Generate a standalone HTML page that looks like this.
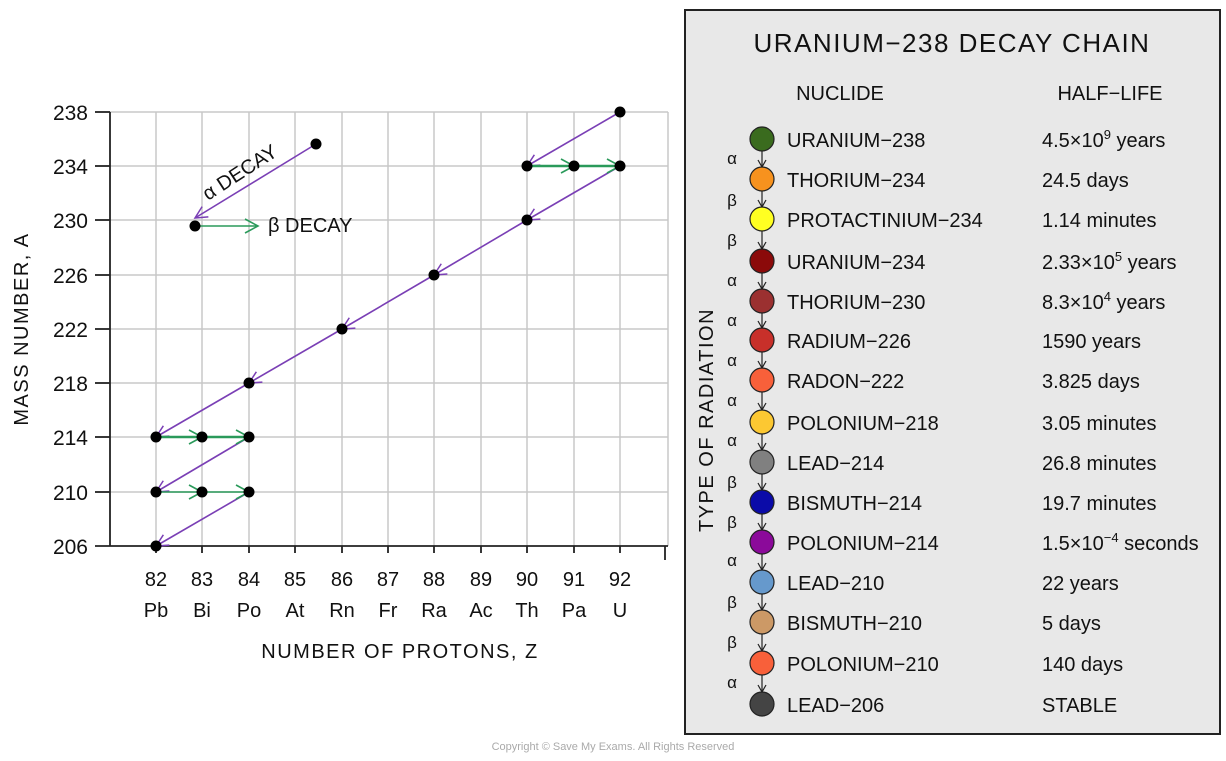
<!DOCTYPE html>
<html><head><meta charset="utf-8"><style>
html,body{margin:0;padding:0;background:#fff;}
svg{display:block;font-family:"Liberation Sans","DejaVu Sans",sans-serif;}
</style></head><body>
<svg width="1226" height="761" viewBox="0 0 1226 761" xmlns="http://www.w3.org/2000/svg">
<defs>
<marker id="pa" markerWidth="16" markerHeight="16" refX="14" refY="8" orient="auto" markerUnits="userSpaceOnUse">
<path d="M2,2 L14,8 L2,14" fill="none" stroke="#7a3fb5" stroke-width="1.5"/></marker>
<marker id="ga" markerWidth="18" markerHeight="18" refX="16" refY="9" orient="auto" markerUnits="userSpaceOnUse">
<path d="M3,2 L16,9 L3,16" fill="none" stroke="#2a9a5a" stroke-width="1.6"/></marker>
<marker id="ka" markerWidth="10" markerHeight="10" refX="8" refY="5" orient="auto" markerUnits="userSpaceOnUse">
<path d="M1,1 L8,5 L1,9" fill="none" stroke="#222" stroke-width="1.2"/></marker>
</defs>
<g stroke="#c8c8c8" stroke-width="1.5">
<line x1="110" y1="112" x2="668" y2="112"/><line x1="110" y1="166" x2="668" y2="166"/>
<line x1="110" y1="220" x2="668" y2="220"/><line x1="110" y1="275" x2="668" y2="275"/>
<line x1="110" y1="329" x2="668" y2="329"/><line x1="110" y1="383" x2="668" y2="383"/>
<line x1="110" y1="437" x2="668" y2="437"/><line x1="110" y1="492" x2="668" y2="492"/>
<line x1="156" y1="112" x2="156" y2="546"/><line x1="202" y1="112" x2="202" y2="546"/>
<line x1="249" y1="112" x2="249" y2="546"/><line x1="295" y1="112" x2="295" y2="546"/>
<line x1="342" y1="112" x2="342" y2="546"/><line x1="388" y1="112" x2="388" y2="546"/>
<line x1="434" y1="112" x2="434" y2="546"/><line x1="481" y1="112" x2="481" y2="546"/>
<line x1="527" y1="112" x2="527" y2="546"/><line x1="574" y1="112" x2="574" y2="546"/>
<line x1="620" y1="112" x2="620" y2="546"/><line x1="668" y1="112" x2="668" y2="546"/>
</g>
<g stroke="#222" stroke-width="1.8">
<line x1="110" y1="112" x2="110" y2="546"/><line x1="95" y1="546" x2="668" y2="546"/>
<line x1="95" y1="112" x2="110" y2="112"/><line x1="95" y1="166" x2="110" y2="166"/>
<line x1="95" y1="220" x2="110" y2="220"/><line x1="95" y1="275" x2="110" y2="275"/>
<line x1="95" y1="329" x2="110" y2="329"/><line x1="95" y1="383" x2="110" y2="383"/>
<line x1="95" y1="437" x2="110" y2="437"/><line x1="95" y1="492" x2="110" y2="492"/>
<line x1="156" y1="546" x2="156" y2="553"/><line x1="202" y1="546" x2="202" y2="553"/>
<line x1="249" y1="546" x2="249" y2="553"/><line x1="295" y1="546" x2="295" y2="553"/>
<line x1="342" y1="546" x2="342" y2="553"/><line x1="388" y1="546" x2="388" y2="553"/>
<line x1="434" y1="546" x2="434" y2="553"/><line x1="481" y1="546" x2="481" y2="553"/>
<line x1="527" y1="546" x2="527" y2="553"/><line x1="574" y1="546" x2="574" y2="553"/>
<line x1="620" y1="546" x2="620" y2="553"/><line x1="665" y1="546" x2="665" y2="560"/>
</g>
<g font-size="21" fill="#111" text-anchor="end">
<text x="88" y="120">238</text><text x="88" y="174">234</text><text x="88" y="228">230</text>
<text x="88" y="283">226</text><text x="88" y="337">222</text><text x="88" y="391">218</text>
<text x="88" y="445">214</text><text x="88" y="500">210</text><text x="88" y="554">206</text>
</g>
<g font-size="20" fill="#111" text-anchor="middle">
<text x="156" y="586">82</text><text x="202" y="586">83</text><text x="249" y="586">84</text>
<text x="295" y="586">85</text><text x="342" y="586">86</text><text x="388" y="586">87</text>
<text x="434" y="586">88</text><text x="481" y="586">89</text><text x="527" y="586">90</text>
<text x="574" y="586">91</text><text x="620" y="586">92</text>
<text x="156" y="617">Pb</text><text x="202" y="617">Bi</text><text x="249" y="617">Po</text>
<text x="295" y="617">At</text><text x="342" y="617">Rn</text><text x="388" y="617">Fr</text>
<text x="434" y="617">Ra</text><text x="481" y="617">Ac</text><text x="527" y="617">Th</text>
<text x="574" y="617">Pa</text><text x="620" y="617">U</text>
</g>
<text x="400" y="658" font-size="20" fill="#111" text-anchor="middle" letter-spacing="1.5">NUMBER  OF  PROTONS, Z</text>
<text transform="translate(28,329) rotate(-90)" font-size="20" fill="#111" text-anchor="middle" letter-spacing="1.5">MASS NUMBER,  A</text>
<g stroke="#7a3fb5" stroke-width="1.6" marker-end="url(#pa)">
<line x1="620" y1="112" x2="527" y2="166"/><line x1="620" y1="166" x2="527" y2="220"/>
<line x1="527" y1="220" x2="434" y2="275"/><line x1="434" y1="275" x2="342" y2="329"/>
<line x1="342" y1="329" x2="249" y2="383"/><line x1="249" y1="383" x2="156" y2="437"/>
<line x1="249" y1="437" x2="156" y2="492"/><line x1="249" y1="492" x2="156" y2="546"/>
<line x1="316" y1="144" x2="195" y2="218"/>
</g>
<g stroke="#2a9a5a" stroke-width="2.5" marker-end="url(#ga)">
<line x1="527" y1="166" x2="574" y2="166"/><line x1="574" y1="166" x2="620" y2="166"/>
<line x1="156" y1="437" x2="202" y2="437"/><line x1="202" y1="437" x2="249" y2="437"/>
</g>
<g stroke="#2a9a5a" stroke-width="1.6" marker-end="url(#ga)">
<line x1="156" y1="492" x2="202" y2="492"/><line x1="202" y1="492" x2="249" y2="492"/>
<line x1="195" y1="226" x2="258" y2="226"/>
</g>
<g fill="#000">
<circle cx="620" cy="112" r="5.5"/><circle cx="527" cy="166" r="5.5"/><circle cx="574" cy="166" r="5.5"/>
<circle cx="620" cy="166" r="5.5"/><circle cx="527" cy="220" r="5.5"/><circle cx="434" cy="275" r="5.5"/>
<circle cx="342" cy="329" r="5.5"/><circle cx="249" cy="383" r="5.5"/><circle cx="156" cy="437" r="5.5"/>
<circle cx="202" cy="437" r="5.5"/><circle cx="249" cy="437" r="5.5"/><circle cx="156" cy="492" r="5.5"/>
<circle cx="202" cy="492" r="5.5"/><circle cx="249" cy="492" r="5.5"/><circle cx="156" cy="546" r="5.5"/>
<circle cx="316" cy="144" r="5.5"/><circle cx="195" cy="226" r="5.5"/>
</g>
<text transform="translate(208,201) rotate(-33)" font-size="20" fill="#111">α DECAY</text>
<text x="268" y="232" font-size="20" fill="#111">β DECAY</text>
<text x="613" y="750" font-size="11" fill="#aaa" text-anchor="middle">Copyright © Save My Exams. All Rights Reserved</text>
<rect x="685" y="10" width="535" height="724" fill="#e8e8e8" stroke="#222" stroke-width="2"/>
<text x="952" y="52" font-size="26" fill="#111" text-anchor="middle" letter-spacing="1.5">URANIUM−238  DECAY  CHAIN</text>
<text x="840" y="100" font-size="20" fill="#111" text-anchor="middle">NUCLIDE</text>
<text x="1110" y="100" font-size="20" fill="#111" text-anchor="middle">HALF−LIFE</text>
<text transform="translate(713,420) rotate(-90)" font-size="20" fill="#111" text-anchor="middle" letter-spacing="1.5">TYPE OF RADIATION</text>
<g stroke="#222" stroke-width="1.2" marker-end="url(#ka)">
<line x1="762" y1="151" x2="762" y2="167"/><line x1="762" y1="191" x2="762" y2="207"/>
<line x1="762" y1="231" x2="762" y2="249"/><line x1="762" y1="273" x2="762" y2="289"/>
<line x1="762" y1="313" x2="762" y2="328"/><line x1="762" y1="352" x2="762" y2="368"/>
<line x1="762" y1="392" x2="762" y2="410"/><line x1="762" y1="434" x2="762" y2="450"/>
<line x1="762" y1="474" x2="762" y2="490"/><line x1="762" y1="514" x2="762" y2="530"/>
<line x1="762" y1="554" x2="762" y2="570"/><line x1="762" y1="594" x2="762" y2="610"/>
<line x1="762" y1="634" x2="762" y2="651"/><line x1="762" y1="675" x2="762" y2="692"/>
</g>
<g stroke="#222" stroke-width="1.2">
<circle cx="762" cy="139" r="12" fill="#3a6b1e"/><circle cx="762" cy="179" r="12" fill="#f7921e"/>
<circle cx="762" cy="219" r="12" fill="#ffff22"/><circle cx="762" cy="261" r="12" fill="#8b0a0a"/>
<circle cx="762" cy="301" r="12" fill="#9b3030"/><circle cx="762" cy="340" r="12" fill="#c8302a"/>
<circle cx="762" cy="380" r="12" fill="#f8603a"/><circle cx="762" cy="422" r="12" fill="#fcc832"/>
<circle cx="762" cy="462" r="12" fill="#808080"/><circle cx="762" cy="502" r="12" fill="#0b0ba8"/>
<circle cx="762" cy="542" r="12" fill="#8b0a9a"/><circle cx="762" cy="582" r="12" fill="#6699cc"/>
<circle cx="762" cy="622" r="12" fill="#cc9966"/><circle cx="762" cy="663" r="12" fill="#f8603a"/>
<circle cx="762" cy="704" r="12" fill="#444"/>
</g>
<g font-size="20" fill="#111">
<text x="787" y="147">URANIUM−238</text><text x="1042" y="147">4.5×10<tspan dy="-8" font-size="13">9</tspan><tspan dy="8"> years</tspan></text>
<text x="787" y="187">THORIUM−234</text><text x="1042" y="187">24.5 days</text>
<text x="787" y="227">PROTACTINIUM−234</text><text x="1042" y="227">1.14 minutes</text>
<text x="787" y="269">URANIUM−234</text><text x="1042" y="269">2.33×10<tspan dy="-8" font-size="13">5</tspan><tspan dy="8"> years</tspan></text>
<text x="787" y="309">THORIUM−230</text><text x="1042" y="309">8.3×10<tspan dy="-8" font-size="13">4</tspan><tspan dy="8"> years</tspan></text>
<text x="787" y="348">RADIUM−226</text><text x="1042" y="348">1590 years</text>
<text x="787" y="388">RADON−222</text><text x="1042" y="388">3.825 days</text>
<text x="787" y="430">POLONIUM−218</text><text x="1042" y="430">3.05 minutes</text>
<text x="787" y="470">LEAD−214</text><text x="1042" y="470">26.8 minutes</text>
<text x="787" y="510">BISMUTH−214</text><text x="1042" y="510">19.7 minutes</text>
<text x="787" y="550">POLONIUM−214</text><text x="1042" y="550">1.5×10<tspan dy="-8" font-size="13">−4</tspan><tspan dy="8"> seconds</tspan></text>
<text x="787" y="590">LEAD−210</text><text x="1042" y="590">22 years</text>
<text x="787" y="630">BISMUTH−210</text><text x="1042" y="630">5 days</text>
<text x="787" y="671">POLONIUM−210</text><text x="1042" y="671">140 days</text>
<text x="787" y="712">LEAD−206</text><text x="1042" y="712">STABLE</text>
</g>
<g font-size="17" fill="#111" text-anchor="middle">
<text x="732" y="164">α</text><text x="732" y="206">β</text><text x="732" y="246">β</text>
<text x="732" y="286">α</text><text x="732" y="326">α</text><text x="732" y="366">α</text>
<text x="732" y="406">α</text><text x="732" y="446">α</text><text x="732" y="488">β</text>
<text x="732" y="528">β</text><text x="732" y="566">α</text><text x="732" y="608">β</text>
<text x="732" y="648">β</text><text x="732" y="688">α</text>
</g>
</svg>
</body></html>
